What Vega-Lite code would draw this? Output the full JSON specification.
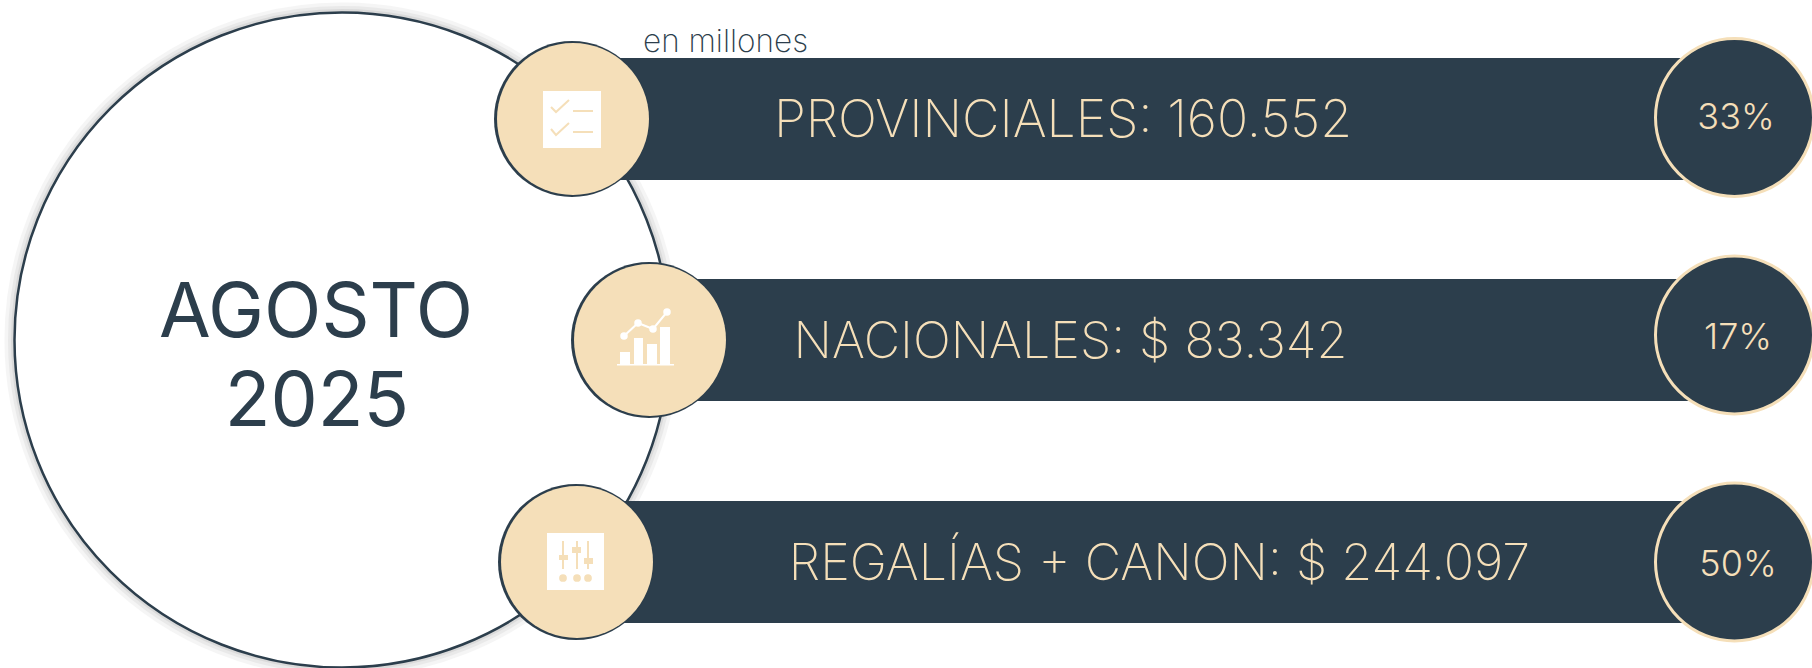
{
"$schema":"https://vega.github.io/schema/vega-lite/v6.json",
"width":1812,"height":668,"padding":0,"autosize":{"type":"none"},"background":"#ffffff",
"config":{"view":{"stroke":null}},
"datasets":{
"centro":[{"x":342,"y":340,"periodo":"AGOSTO 2025"}],
"filas":[
{"categoria":"PROVINCIALES","x":600,"x2":1700,"y":58,"y2":180},
{"categoria":"NACIONALES","x":680,"x2":1700,"y":279,"y2":401},
{"categoria":"REGALÍAS + CANON","x":600,"x2":1700,"y":501,"y2":623}],
"iconos":[{"categoria":"PROVINCIALES","x":572,"xf":573,"y":119},{"categoria":"NACIONALES","x":649,"xf":650,"y":340},{"categoria":"REGALÍAS + CANON","x":576,"xf":577,"y":562}],
"porcentajes":[{"categoria":"PROVINCIALES","x":1734.5,"y":117.5,"yt":129,"xt":1736,"share":"33%"},{"categoria":"NACIONALES","x":1734.5,"y":335,"yt":349,"xt":1738,"share":"17%"},{"categoria":"REGALÍAS + CANON","x":1734.5,"y":562,"yt":575.5,"xt":1738,"share":"50%"}],
"blancos":[
{"x":543,"x2":601,"y":91,"y2":148},{"x":547,"x2":604,"y":533,"y2":590},
{"x":620,"x2":630,"y":352,"y2":364},{"x":634,"x2":643,"y":338,"y2":364},{"x":647,"x2":657,"y":344,"y2":364},{"x":660,"x2":670,"y":327,"y2":364},{"x":617,"x2":674,"y":364,"y2":365.5}],
"lineaBlanca":[{"x":624,"y":336,"o":1},{"x":638,"y":323,"o":2},{"x":653,"y":329,"o":3},{"x":667,"y":312,"o":4}],
"checks":[{"g":"a","x":551,"y":107,"o":1},{"g":"a","x":556,"y":112,"o":2},{"g":"a","x":569,"y":100,"o":3},{"g":"b","x":551,"y":129,"o":1},{"g":"b","x":556,"y":135,"o":2},{"g":"b","x":569,"y":123,"o":3}],
"trazos":[{"x":573,"x2":593,"y":111,"y2":111},{"x":573,"x2":593,"y":132,"y2":132},{"x":563,"x2":563,"y":541,"y2":569},{"x":577,"x2":577,"y":541,"y2":569},{"x":588,"x2":588,"y":541,"y2":569}],
"mandos":[{"x":559,"x2":568,"y":555,"y2":560},{"x":572,"x2":581,"y":547,"y2":553},{"x":584,"x2":593,"y":558,"y2":564}],
"puntos":[{"x":563,"y":578},{"x":577,"y":578},{"x":588,"y":578}],
"etiquetaProvincial":[{"x":1063,"y":137,"t":"PROVINCIALES: 160.552"}],
"etiquetas":[{"x":1070.5,"y":358,"t":"NACIONALES: $ 83.342"},{"x":1159.5,"y":580,"t":"REGALÍAS + CANON: $ 244.097"}],
"titulo":[{"x":316,"y":337,"t":"AGOSTO"},{"x":317,"y":426,"t":"2025"}],
"unidad":[{"x":643,"y":52,"t":"en millones"}]
},
"encoding":{
"x":{"field":"x","type":"quantitative","axis":null,"scale":{"domain":[0,1812],"nice":false,"zero":false}},
"y":{"field":"y","type":"quantitative","axis":null,"scale":{"domain":[668,0],"nice":false,"zero":false}}
},
"layer":[
{"data":{"name":"centro"},"mark":{"type":"point","shape":"circle","filled":false,"size":429025,"stroke":"#000000","strokeWidth":20,"opacity":0.035}},
{"data":{"name":"centro"},"mark":{"type":"point","shape":"circle","filled":false,"size":429025,"stroke":"#000000","strokeWidth":13,"opacity":0.045}},
{"data":{"name":"centro"},"mark":{"type":"point","shape":"circle","filled":false,"size":429025,"stroke":"#000000","strokeWidth":7,"opacity":0.06}},
{"data":{"name":"centro"},"mark":{"type":"point","shape":"circle","filled":true,"size":429025,"fill":"#ffffff","stroke":"#2c3e4c","strokeWidth":2.5,"opacity":1}},
{"data":{"name":"filas"},"mark":{"type":"rect","fill":"#2c3e4c"},"encoding":{"x2":{"field":"x2"},"y2":{"field":"y2"}}},
{"data":{"name":"iconos"},"mark":{"type":"point","shape":"circle","filled":true,"size":24336,"fill":"#2c3e4c","opacity":1,"strokeWidth":0}},
{"data":{"name":"iconos"},"mark":{"type":"point","shape":"circle","filled":true,"size":23104,"fill":"#f5dfb9","opacity":1,"strokeWidth":0},"encoding":{"x":{"field":"xf","type":"quantitative"}}},
{"data":{"name":"porcentajes"},"mark":{"type":"point","shape":"circle","filled":true,"size":24964,"fill":"#2c3e4c","stroke":"#f5dfb9","strokeWidth":3,"opacity":1}},
{"data":{"name":"blancos"},"mark":{"type":"rect","fill":"#ffffff"},"encoding":{"x2":{"field":"x2"},"y2":{"field":"y2"}}},
{"data":{"name":"lineaBlanca"},"mark":{"type":"line","stroke":"#ffffff","strokeWidth":2},"encoding":{"order":{"field":"o"}}},
{"data":{"name":"lineaBlanca"},"mark":{"type":"point","shape":"circle","filled":true,"size":56,"fill":"#ffffff","opacity":1,"strokeWidth":0}},
{"data":{"name":"checks"},"mark":{"type":"line","stroke":"#f5dfb9","strokeWidth":2},"encoding":{"detail":{"field":"g"},"order":{"field":"o"}}},
{"data":{"name":"trazos"},"mark":{"type":"rule","stroke":"#f5dfb9","strokeWidth":2},"encoding":{"x2":{"field":"x2"},"y2":{"field":"y2"}}},
{"data":{"name":"mandos"},"mark":{"type":"rect","fill":"#f5dfb9"},"encoding":{"x2":{"field":"x2"},"y2":{"field":"y2"}}},
{"data":{"name":"puntos"},"mark":{"type":"point","shape":"circle","filled":true,"size":60,"fill":"#f5dfb9","opacity":1,"strokeWidth":0}},
{"data":{"name":"etiquetaProvincial"},"mark":{"type":"text","font":"Inter","fontWeight":200,"fontSize":51.7,"fill":"#f5dfb9","align":"center","baseline":"alphabetic"},"encoding":{"text":{"field":"t"}}},
{"data":{"name":"etiquetas"},"mark":{"type":"text","font":"Inter","fontWeight":200,"fontSize":50.2,"fill":"#f5dfb9","align":"center","baseline":"alphabetic"},"encoding":{"text":{"field":"t"}}},
{"data":{"name":"porcentajes"},"mark":{"type":"text","font":"Inter","fontWeight":300,"fontSize":36,"fill":"#f5dfb9","align":"center","baseline":"alphabetic"},"encoding":{"x":{"field":"xt","type":"quantitative"},"y":{"field":"yt","type":"quantitative"},"text":{"field":"share"}}},
{"data":{"name":"titulo"},"mark":{"type":"text","font":"Inter","fontWeight":400,"fontSize":75,"fill":"#2c3e4c","align":"center","baseline":"alphabetic"},"encoding":{"text":{"field":"t"}}},
{"data":{"name":"unidad"},"mark":{"type":"text","font":"Inter","fontWeight":200,"fontSize":31.5,"fill":"#2c3e4c","align":"left","baseline":"alphabetic"},"encoding":{"text":{"field":"t"}}}
]
}
